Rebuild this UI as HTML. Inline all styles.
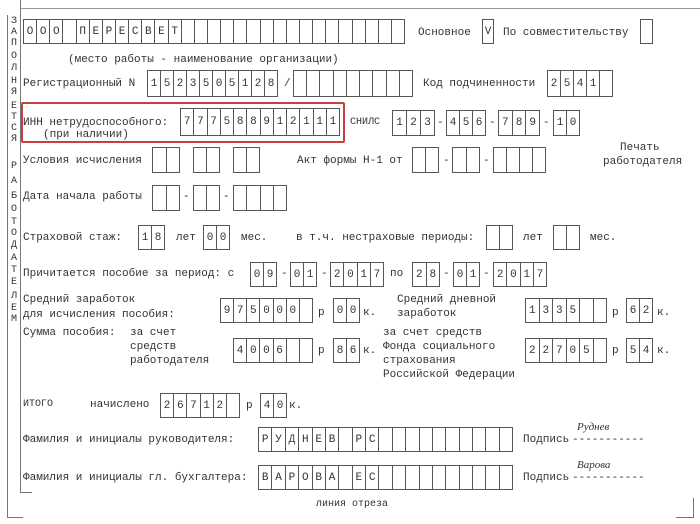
<!DOCTYPE html>
<html><head><meta charset="utf-8"><style>
body{margin:0;width:700px;height:524px;background:#fff;position:relative;overflow:hidden;font-family:"Liberation Mono","DejaVu Sans Mono",monospace;font-size:11px;color:#333}
.t{position:absolute;white-space:pre;line-height:12px}
.b{position:absolute;display:flex;border:1px solid #555;box-sizing:border-box}
.b span{flex:1;border-right:1px solid #555;text-align:center;display:flex;align-items:center;justify-content:center;font-size:11px}
.b span:last-child{border-right:none}
.l{position:absolute;background:#777}
.v{position:absolute;left:9px;width:10px;text-align:center;font-size:10px;line-height:12px}
</style></head><body>
<div class="l" style="left:20px;top:8px;width:680px;height:1px;background:#999"></div>
<div class="l" style="left:20px;top:0;width:1px;height:492px"></div>
<div class="l" style="left:20px;top:492px;width:12px;height:1px"></div>
<div class="l" style="left:7px;top:15px;width:1px;height:502px"></div>
<div class="l" style="left:7px;top:517px;width:16px;height:1px"></div>
<div class="l" style="left:693px;top:498px;width:1px;height:19px"></div>
<div class="l" style="left:676px;top:517px;width:18px;height:1px"></div>

<div class="v" style="top:16px">З</div><div class="v" style="top:27px">А</div><div class="v" style="top:38px">П</div><div class="v" style="top:51px">О</div><div class="v" style="top:63px">Л</div><div class="v" style="top:76px">Н</div><div class="v" style="top:87px">Я</div><div class="v" style="top:101px">Е</div><div class="v" style="top:112px">Т</div><div class="v" style="top:123px">С</div><div class="v" style="top:134px">Я</div><div class="v" style="top:161px">Р</div><div class="v" style="top:176px">А</div><div class="v" style="top:191px">Б</div><div class="v" style="top:204px">О</div><div class="v" style="top:217px">Т</div><div class="v" style="top:228px">О</div><div class="v" style="top:240px">Д</div><div class="v" style="top:253px">А</div><div class="v" style="top:265px">Т</div><div class="v" style="top:277px">Е</div><div class="v" style="top:291px">Л</div><div class="v" style="top:303px">Е</div><div class="v" style="top:314px">М</div>

<div class="b" style="left:23px;top:19px;width:382px;height:25px"><span>О</span><span>О</span><span>О</span><span></span><span>П</span><span>Е</span><span>Р</span><span>Е</span><span>С</span><span>В</span><span>Е</span><span>Т</span><span></span><span></span><span></span><span></span><span></span><span></span><span></span><span></span><span></span><span></span><span></span><span></span><span></span><span></span><span></span><span></span><span></span></div>
<div class="t" style="left:418px;top:27px">Основное</div>
<div class="b" style="left:482px;top:19px;width:12px;height:25px"><span>V</span></div>
<div class="t" style="left:503px;top:27px">По совместительству</div>
<div class="b" style="left:640px;top:19px;width:13px;height:25px"><span></span></div>
<div class="t" style="left:68px;top:54px">(место работы - наименование организации)</div>

<div class="t" style="left:23px;top:78px">Регистрационный N</div>
<div class="b" style="left:147px;top:70px;width:131px;height:27px"><span>1</span><span>5</span><span>2</span><span>3</span><span>5</span><span>0</span><span>5</span><span>1</span><span>2</span><span>8</span></div>
<div class="t" style="left:284px;top:78px">/</div>
<div class="b" style="left:293px;top:70px;width:120px;height:27px"><span></span><span></span><span></span><span></span><span></span><span></span><span></span><span></span><span></span></div>
<div class="t" style="left:423px;top:78px">Код подчиненности</div>
<div class="b" style="left:547px;top:70px;width:66px;height:27px"><span>2</span><span>5</span><span>4</span><span>1</span><span></span></div>

<div style="position:absolute;left:21px;top:102px;width:320px;height:37px;border:2px solid #c8403c;border-radius:2px"></div>
<div class="t" style="left:23px;top:117px">ИНН нетрудоспособного:</div>
<div class="t" style="left:43px;top:129px">(при наличии)</div>
<div class="b" style="left:180px;top:108px;width:160px;height:28px"><span>7</span><span>7</span><span>7</span><span>5</span><span>8</span><span>8</span><span>9</span><span>1</span><span>2</span><span>1</span><span>1</span><span>1</span></div>
<div class="t" style="left:350px;top:117px;font-size:10px">СНИЛС</div>
<div class="b" style="left:392px;top:110px;width:43px;height:26px"><span>1</span><span>2</span><span>3</span></div>
<div class="t" style="left:437px;top:117px">-</div>
<div class="b" style="left:446px;top:110px;width:40px;height:26px"><span>4</span><span>5</span><span>6</span></div>
<div class="t" style="left:489px;top:117px">-</div>
<div class="b" style="left:498px;top:110px;width:42px;height:26px"><span>7</span><span>8</span><span>9</span></div>
<div class="t" style="left:543px;top:117px">-</div>
<div class="b" style="left:553px;top:110px;width:27px;height:26px"><span>1</span><span>0</span></div>

<div class="t" style="left:23px;top:155px">Условия исчисления</div>
<div class="b" style="left:152px;top:147px;width:28px;height:26px"><span></span><span></span></div>
<div class="b" style="left:193px;top:147px;width:27px;height:26px"><span></span><span></span></div>
<div class="b" style="left:233px;top:147px;width:27px;height:26px"><span></span><span></span></div>
<div class="t" style="left:297px;top:155px">Акт формы Н-1 от</div>
<div class="b" style="left:412px;top:147px;width:27px;height:26px"><span></span><span></span></div>
<div class="t" style="left:443px;top:155px">-</div>
<div class="b" style="left:452px;top:147px;width:28px;height:26px"><span></span><span></span></div>
<div class="t" style="left:483px;top:155px">-</div>
<div class="b" style="left:493px;top:147px;width:53px;height:26px"><span></span><span></span><span></span><span></span></div>
<div class="t" style="left:620px;top:142px">Печать</div>
<div class="t" style="left:603px;top:156px">работодателя</div>

<div class="t" style="left:23px;top:191px">Дата начала работы</div>
<div class="b" style="left:152px;top:185px;width:28px;height:26px"><span></span><span></span></div>
<div class="t" style="left:183px;top:191px">-</div>
<div class="b" style="left:193px;top:185px;width:27px;height:26px"><span></span><span></span></div>
<div class="t" style="left:223px;top:191px">-</div>
<div class="b" style="left:233px;top:185px;width:54px;height:26px"><span></span><span></span><span></span><span></span></div>

<div class="t" style="left:23px;top:232px">Страховой стаж:</div>
<div class="b" style="left:138px;top:225px;width:27px;height:25px"><span>1</span><span>8</span></div>
<div class="t" style="left:176px;top:232px">лет</div>
<div class="b" style="left:203px;top:225px;width:27px;height:25px"><span>0</span><span>0</span></div>
<div class="t" style="left:241px;top:232px">мес.</div>
<div class="t" style="left:296px;top:232px">в т.ч. нестраховые периоды:</div>
<div class="b" style="left:486px;top:225px;width:27px;height:25px"><span></span><span></span></div>
<div class="t" style="left:523px;top:232px">лет</div>
<div class="b" style="left:553px;top:225px;width:27px;height:25px"><span></span><span></span></div>
<div class="t" style="left:590px;top:232px">мес.</div>

<div class="t" style="left:23px;top:268px">Причитается пособие за период: с</div>
<div class="b" style="left:250px;top:262px;width:27px;height:25px"><span>0</span><span>9</span></div>
<div class="t" style="left:281px;top:268px">-</div>
<div class="b" style="left:290px;top:262px;width:27px;height:25px"><span>0</span><span>1</span></div>
<div class="t" style="left:321px;top:268px">-</div>
<div class="b" style="left:330px;top:262px;width:54px;height:25px"><span>2</span><span>0</span><span>1</span><span>7</span></div>
<div class="t" style="left:390px;top:268px">по</div>
<div class="b" style="left:412px;top:262px;width:28px;height:25px"><span>2</span><span>8</span></div>
<div class="t" style="left:443px;top:268px">-</div>
<div class="b" style="left:453px;top:262px;width:27px;height:25px"><span>0</span><span>1</span></div>
<div class="t" style="left:483px;top:268px">-</div>
<div class="b" style="left:493px;top:262px;width:54px;height:25px"><span>2</span><span>0</span><span>1</span><span>7</span></div>

<div class="t" style="left:23px;top:294px">Средний заработок</div>
<div class="t" style="left:23px;top:309px">для исчисления пособия:</div>
<div class="b" style="left:220px;top:298px;width:93px;height:25px"><span>9</span><span>7</span><span>5</span><span>0</span><span>0</span><span>0</span><span></span></div>
<div class="t" style="left:318px;top:307px">р</div>
<div class="b" style="left:333px;top:298px;width:27px;height:25px"><span>0</span><span>0</span></div>
<div class="t" style="left:363px;top:307px">к.</div>
<div class="t" style="left:397px;top:294px">Средний дневной</div>
<div class="t" style="left:397px;top:308px">заработок</div>
<div class="b" style="left:525px;top:298px;width:82px;height:25px"><span>1</span><span>3</span><span>3</span><span>5</span><span></span><span></span></div>
<div class="t" style="left:612px;top:307px">р</div>
<div class="b" style="left:626px;top:298px;width:27px;height:25px"><span>6</span><span>2</span></div>
<div class="t" style="left:657px;top:307px">к.</div>

<div class="t" style="left:23px;top:327px">Сумма пособия:</div>
<div class="t" style="left:130px;top:327px">за счет</div>
<div class="t" style="left:130px;top:341px">средств</div>
<div class="t" style="left:130px;top:355px">работодателя</div>
<div class="b" style="left:233px;top:338px;width:80px;height:25px"><span>4</span><span>0</span><span>0</span><span>6</span><span></span><span></span></div>
<div class="t" style="left:318px;top:345px">р</div>
<div class="b" style="left:333px;top:338px;width:27px;height:25px"><span>8</span><span>6</span></div>
<div class="t" style="left:363px;top:345px">к.</div>
<div class="t" style="left:383px;top:327px">за счет средств</div>
<div class="t" style="left:383px;top:341px">Фонда социального</div>
<div class="t" style="left:383px;top:355px">страхования</div>
<div class="t" style="left:383px;top:369px">Российской Федерации</div>
<div class="b" style="left:525px;top:338px;width:82px;height:25px"><span>2</span><span>2</span><span>7</span><span>0</span><span>5</span><span></span></div>
<div class="t" style="left:612px;top:345px">р</div>
<div class="b" style="left:626px;top:338px;width:27px;height:25px"><span>5</span><span>4</span></div>
<div class="t" style="left:657px;top:345px">к.</div>

<div class="t" style="left:23px;top:399px;font-size:10px">ИТОГО</div>
<div class="t" style="left:90px;top:399px">начислено</div>
<div class="b" style="left:160px;top:393px;width:80px;height:25px"><span>2</span><span>6</span><span>7</span><span>1</span><span>2</span><span></span></div>
<div class="t" style="left:246px;top:400px">р</div>
<div class="b" style="left:260px;top:393px;width:27px;height:25px"><span>4</span><span>0</span></div>
<div class="t" style="left:289px;top:400px">к.</div>

<div class="t" style="left:23px;top:434px">Фамилия и инициалы руководителя:</div>
<div class="b" style="left:258px;top:427px;width:255px;height:25px"><span>Р</span><span>У</span><span>Д</span><span>Н</span><span>Е</span><span>В</span><span></span><span>Р</span><span>С</span><span></span><span></span><span></span><span></span><span></span><span></span><span></span><span></span><span></span><span></span></div>
<div class="t" style="left:523px;top:434px">Подпись</div>
<div class="t" style="left:572px;top:434px">-----------</div>
<div class="t" style="left:577px;top:421px;font-style:italic;font-family:'Liberation Serif',serif;font-size:11px">Руднев</div>

<div class="t" style="left:23px;top:472px">Фамилия и инициалы гл. бухгалтера:</div>
<div class="b" style="left:258px;top:465px;width:255px;height:25px"><span>В</span><span>А</span><span>Р</span><span>О</span><span>В</span><span>А</span><span></span><span>Е</span><span>С</span><span></span><span></span><span></span><span></span><span></span><span></span><span></span><span></span><span></span><span></span></div>
<div class="t" style="left:523px;top:472px">Подпись</div>
<div class="t" style="left:572px;top:472px">-----------</div>
<div class="t" style="left:577px;top:459px;font-style:italic;font-family:'Liberation Serif',serif;font-size:11px">Варова</div>

<div class="t" style="left:316px;top:499px;font-size:10px">линия отреза</div>
</body></html>
